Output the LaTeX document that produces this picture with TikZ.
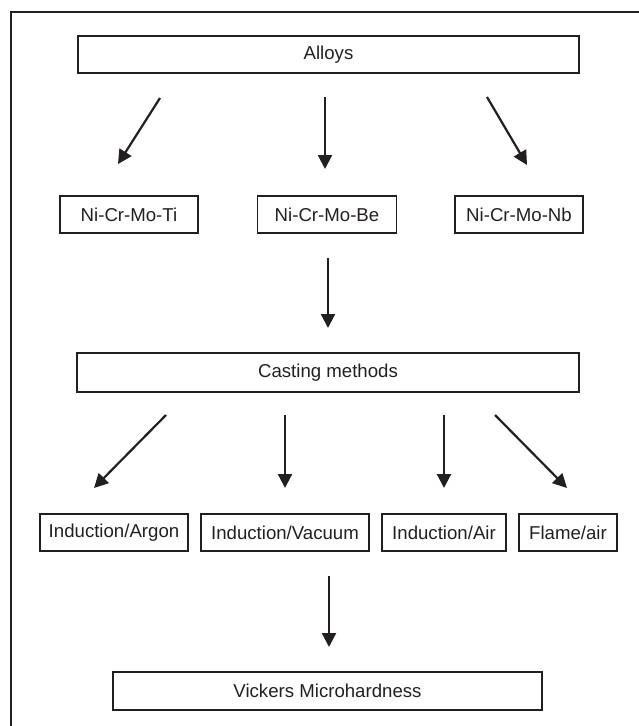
\documentclass[tikz,border=0pt]{standalone}
\usepackage{fontspec}
\setmainfont{Liberation Sans}
\usetikzlibrary{arrows.meta}
\definecolor{ink}{HTML}{231F20}
\begin{document}
\begin{tikzpicture}[x=1bp,y=-1bp,
  box/.style={draw=ink,line width=1.8bp,inner sep=0pt,text=ink,
    font=\fontsize{18.7}{22}\selectfont},
  arr/.style={draw=ink,line width=2.2bp,-{Triangle[width=14bp,length=14bp]}}]
\useasboundingbox (0,0) rectangle (639,726);
\draw[ink,line width=2.2bp] (11,726) -- (11,12) -- (639,12);
% boxes
\node[box,minimum width=501bp,minimum height=37bp] (alloys) at (328.5,54.5) {Alloys};
\node[box,minimum width=138bp,minimum height=37bp] (ti) at (129,214.5) {Ni-Cr-Mo-Ti};
\node[box,minimum width=139bp,minimum height=37bp] (be) at (327,214.5) {Ni-Cr-Mo-Be};
\node[box,minimum width=128bp,minimum height=37bp] (nb) at (519,214.5) {Ni-Cr-Mo-Nb};
\node[box,minimum width=502bp,minimum height=39bp] (casting) at (328,372.5) {Casting methods};
\node[box,minimum width=148bp,minimum height=37bp] (argon) at (114,532.5) {Induction/Argon};
\node[box,minimum width=168bp,minimum height=37bp] (vacuum) at (285,532.5) {Induction/Vacuum};
\node[box,minimum width=124bp,minimum height=37bp] (air) at (444,532.5) {Induction/Air};
\node[box,minimum width=98bp,minimum height=37bp] (flame) at (568,532.5) {Flame/air};
\node[box,minimum width=429bp,minimum height=38bp] (vickers) at (327.5,691) {Vickers Microhardness};
% arrow ends
\coordinate (a1s) at (160,98);  \coordinate (a1e) at (118,164);
\coordinate (a2s) at (325,97);  \coordinate (a2e) at (325,169);
\coordinate (a3s) at (487,97);  \coordinate (a3e) at (527,165);
\coordinate (a4s) at (328,258); \coordinate (a4e) at (328,328);
\coordinate (a5s) at (166,415); \coordinate (a5e) at (94,488);
\coordinate (a6s) at (285,415); \coordinate (a6e) at (285,488);
\coordinate (a7s) at (444,415); \coordinate (a7e) at (444,488);
\coordinate (a8s) at (495,415); \coordinate (a8e) at (567,488);
\coordinate (a9s) at (329,576); \coordinate (a9e) at (329,647);
\foreach \i in {1,...,9} {\draw[arr] (a\i s) -- (a\i e);}
\end{tikzpicture}
\end{document}
